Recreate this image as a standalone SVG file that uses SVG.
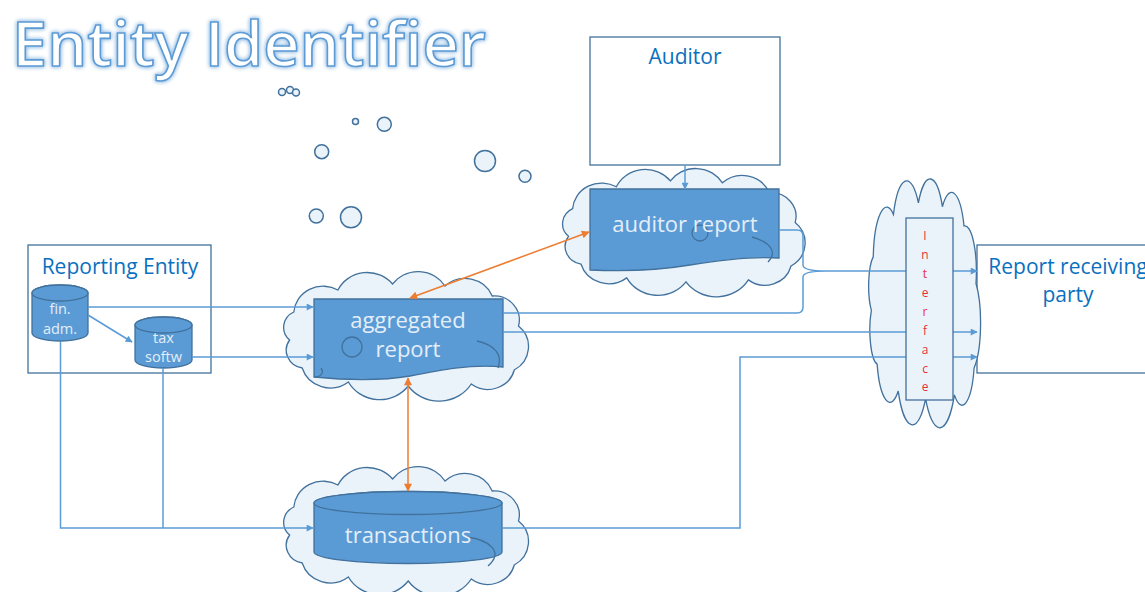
<svg xmlns="http://www.w3.org/2000/svg" xmlns:xlink="http://www.w3.org/1999/xlink" width="1145" height="592" viewBox="0 0 1145 592">
<style>
.box{fill:#fff;stroke:#41719C;stroke-width:1.3}
.lbl{font-family:"Open Sans","Liberation Sans",sans-serif;fill:#0A70C0;font-size:21px;text-anchor:middle}
.wt{font-family:"Open Sans","Liberation Sans",sans-serif;fill:#E4EEF8;text-anchor:middle}
.dark{fill:#5B9BD5;stroke:#41719C;stroke-width:1.3}
.deco{fill:none;stroke:#41719C;stroke-width:1.3}
.cl{fill:#EAF2FA;stroke:#41719C;stroke-width:1.3;vector-effect:non-scaling-stroke}
.bub{fill:#EAF2FA;stroke:#41719C;stroke-width:1.5}
.ln{fill:none;stroke:#5B9BD5;stroke-width:1.5}
.or{fill:none;stroke:#ED7D31;stroke-width:1.5}
.ifc{font-family:"Open Sans","Liberation Sans",sans-serif;fill:#E8303A;font-size:12px;text-anchor:middle}
</style>
<defs>
<path id="cloud" class="cl" d="M16,42 A28,28 0 0 1 58,20 A31,31 0 0 1 110,14 A30,30 0 0 1 160,16 A28,28 0 0 1 205,26 A24,24 0 0 1 230,56 A27,27 0 0 1 226,100 A26,26 0 0 1 185,114 A36,36 0 0 1 125,116 A34,34 0 0 1 68,112 A28,28 0 0 1 24,98 A18,18 0 0 1 12,70 A17,17 0 0 1 16,42 Z"/>
<marker id="ab" viewBox="0 0 10 10" refX="9" refY="5" markerWidth="8" markerHeight="7" orient="auto-start-reverse" markerUnits="userSpaceOnUse">
<path d="M0,0 L10,5 L0,10 Z" fill="#5B9BD5"/>
</marker>
<marker id="ao" viewBox="0 0 10 10" refX="9" refY="5" markerWidth="9" markerHeight="8" orient="auto-start-reverse" markerUnits="userSpaceOnUse">
<path d="M0,0 L10,5 L0,10 Z" fill="#ED7D31"/>
</marker>
<filter id="glow" x="-3%" y="-10%" width="106%" height="120%">
<feGaussianBlur in="SourceAlpha" stdDeviation="2" result="b"/>
<feFlood flood-color="#9DC3E6"/>
<feComposite in2="b" operator="in" result="g"/>
<feMerge><feMergeNode in="g"/><feMergeNode in="g"/><feMergeNode in="SourceGraphic"/></feMerge>
</filter>
</defs>

<g id="title">
<text x="12" y="66" font-family="'Open Sans','Liberation Sans',sans-serif" font-size="62" font-weight="600" fill="#fff" stroke="#5B9BD5" stroke-width="1.6" textLength="474" lengthAdjust="spacingAndGlyphs" filter="url(#glow)">Entity Identifier</text>
</g>

<g id="bubbles">
<circle class="bub" cx="282" cy="92" r="3.5"/>
<circle class="bub" cx="290" cy="90" r="3.5"/>
<circle class="bub" cx="296" cy="92.5" r="3.5"/>
<circle class="bub" cx="355.5" cy="121.5" r="3"/>
<circle class="bub" cx="384.3" cy="124.3" r="7"/>
<circle class="bub" cx="321.7" cy="151.7" r="7"/>
<circle class="bub" cx="485" cy="161" r="10.5"/>
<circle class="bub" cx="525" cy="176.3" r="6"/>
<circle class="bub" cx="316.3" cy="216" r="7"/>
<circle class="bub" cx="351" cy="217.3" r="10.5"/>
</g>

<g id="reporting-entity">
<rect class="box" x="28" y="245" width="183" height="128"/>
<text class="lbl" x="120" y="274">Reporting Entity</text>
</g>

<g id="auditor">
<rect class="box" x="590" y="37" width="190" height="128"/>
<text class="lbl" x="685" y="64">Auditor</text>
</g>

<g id="report-receiving-party">
<rect class="box" x="977" y="245" width="175" height="128"/>
<text class="lbl" x="1068" y="274">Report receiving</text>
<text class="lbl" x="1068" y="302">party</text>
</g>

<g id="aggregated-report">
<use href="#cloud" transform="translate(277,270) scale(1.05,1)"/>
<path class="dark" d="M314,299 H503 V367 C470,364 440,370 410,376 C380,381 345,380 314,377 Z"/>
<circle class="deco" cx="352" cy="347" r="10"/>
<path class="deco" d="M477,341 C495,345 503,355 498,368"/>
<path class="deco" d="M314,377 C322,377 324,372 321,368"/>
<text class="wt" x="408" y="328" font-size="22">aggregated</text>
<text class="wt" x="408" y="357" font-size="22">report</text>
</g>

<g id="auditor-report">
<use href="#cloud" transform="translate(556,167) scale(1.04,0.99)"/>
<path class="dark" d="M590,189 H779 V258 C750,256 720,260 690,265 C660,270 630,272 590,270 Z"/>
<circle class="deco" cx="700" cy="233" r="8"/>
<path class="deco" d="M752,237 C770,242 778,252 768,262"/>
<text class="wt" x="685" y="232" font-size="22">auditor report</text>
</g>

<g id="transactions">
<use href="#cloud" transform="translate(277,465) scale(1.05,1)"/>
<path class="dark" d="M314,503 A94,11.5 0 0 1 502,503 V552 A94,11.5 0 0 1 314,552 Z"/>
<ellipse class="dark" cx="408" cy="503" rx="94" ry="11.5"/>
<path class="deco" d="M467,537 C490,540 504,552 488,566"/>
<text class="wt" x="408" y="543" font-size="22">transactions</text>
</g>

<g id="fin-adm">
<path class="dark" d="M32,293 A28,8 0 0 1 88,293 V333 A28,8 0 0 1 32,333 Z"/>
<ellipse class="dark" cx="60" cy="293" rx="28" ry="8"/>
<text class="wt" x="60" y="314" font-size="14.5">fin.</text>
<text class="wt" x="60" y="334" font-size="14.5">adm.</text>
</g>

<g id="tax-softw">
<path class="dark" d="M135,325 A28.5,8 0 0 1 192,325 V360 A28.5,8 0 0 1 135,360 Z"/>
<ellipse class="dark" cx="163.5" cy="325" rx="28.5" ry="8"/>
<text class="wt" x="163.5" y="343" font-size="14.5">tax</text>
<text class="wt" x="163.5" y="362" font-size="14.5">softw</text>
</g>

<g id="interface-cloud">
<use href="#cloud" transform="translate(865.6,176) scale(0.48,1.92)"/>
</g>

<g id="connectors">
<path class="ln" d="M88,315 L132,342" marker-end="url(#ab)"/>
<path class="ln" d="M88,307 H313" marker-end="url(#ab)"/>
<path class="ln" d="M192,357 H313" marker-end="url(#ab)"/>
<path class="ln" d="M60.5,341 V528 H313" marker-end="url(#ab)"/>
<path class="ln" d="M163,368 V528"/>
<path class="ln" d="M685,165 V189" marker-end="url(#ab)"/>
<path class="ln" d="M779,230 H797 Q803,230 803,236 V265 Q803,271 826,271 Q803,271 803,277 V307 Q803,313 797,313 H503"/>
<path class="ln" d="M826,271 H977" marker-end="url(#ab)"/>
<path class="ln" d="M503,332 H977" marker-end="url(#ab)"/>
<path class="ln" d="M502,528 H740 V357 H977" marker-end="url(#ab)"/>
<path class="or" d="M410,298 L589,232" marker-start="url(#ao)" marker-end="url(#ao)"/>
<path class="or" d="M408,378 V491" marker-start="url(#ao)" marker-end="url(#ao)"/>
</g>

<g id="interface">
<rect x="906" y="218" width="47" height="182" fill="#EAF2FA" stroke="#41719C" stroke-width="1.3"/>
<text class="ifc" x="925" y="240">I</text>
<text class="ifc" x="925" y="259">n</text>
<text class="ifc" x="925" y="278">t</text>
<text class="ifc" x="925" y="297">e</text>
<text class="ifc" x="925" y="316">r</text>
<text class="ifc" x="925" y="335">f</text>
<text class="ifc" x="925" y="354">a</text>
<text class="ifc" x="925" y="373">c</text>
<text class="ifc" x="925" y="391">e</text>
</g>
</svg>
